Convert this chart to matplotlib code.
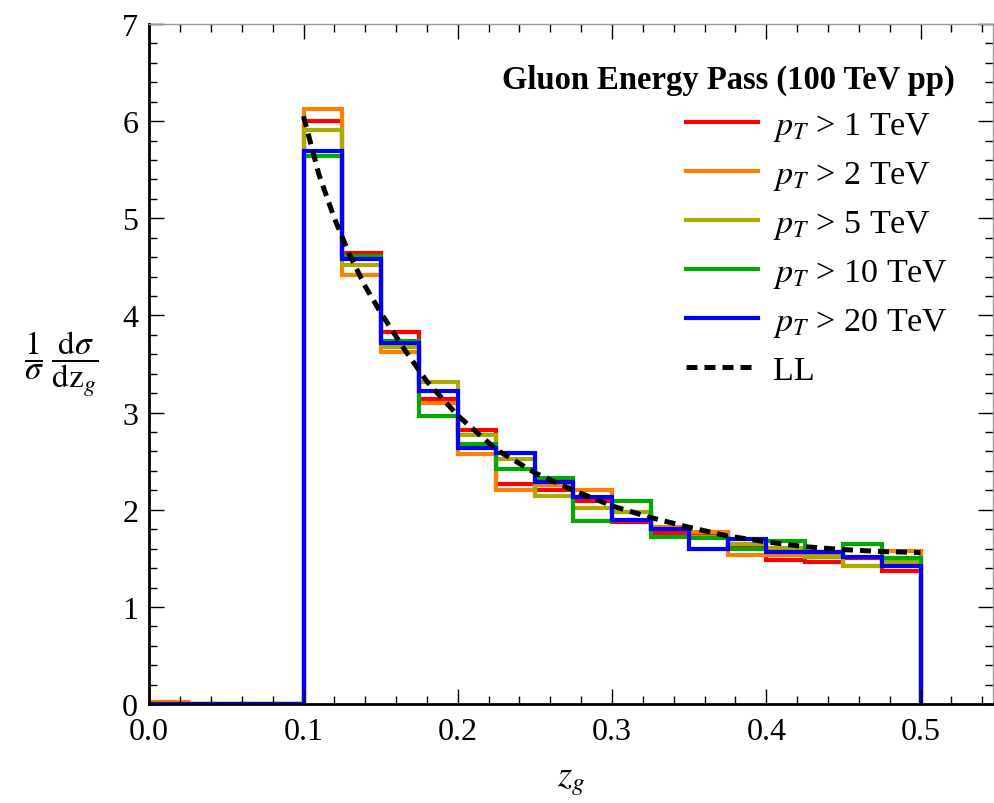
import numpy as np
import matplotlib
matplotlib.use("Agg")
import matplotlib.pyplot as plt
from matplotlib.ticker import MultipleLocator

plt.rcParams["font.family"] = ["Liberation Serif", "DejaVu Serif"]
plt.rcParams["mathtext.fontset"] = "stix"

# bin edges in z_g (width 0.025 from 0 to 0.5)
edges = np.round(np.arange(0.0, 0.5001, 0.025), 3)

# normalized z_g distributions per p_T cut, first four bins are below z_cut
zg_pt1 = [0.02, 0, 0, 0,
          6.00, 4.64, 3.83, 3.14, 2.82, 2.27, 2.20, 2.09,
          1.87, 1.76, 1.76, 1.63, 1.48, 1.46, 1.50, 1.37]
zg_pt2 = [0.02, 0, 0, 0,
          6.12, 4.42, 3.62, 3.10, 2.57, 2.20, 2.25, 2.20,
          1.98, 1.82, 1.77, 1.53, 1.53, 1.53, 1.42, 1.58]
zg_pt5 = [0, 0, 0, 0,
          5.91, 4.52, 3.67, 3.31, 2.77, 2.52, 2.14, 2.02,
          1.98, 1.80, 1.72, 1.65, 1.61, 1.51, 1.42, 1.46]
zg_pt10 = [0, 0, 0, 0,
           5.64, 4.61, 3.74, 2.96, 2.68, 2.42, 2.33, 1.88,
           2.09, 1.72, 1.71, 1.60, 1.68, 1.57, 1.65, 1.50]
zg_pt20 = [0, 0, 0, 0,
           5.69, 4.58, 3.72, 3.22, 2.64, 2.58, 2.29, 2.13,
           1.89, 1.80, 1.60, 1.70, 1.57, 1.57, 1.51, 1.42]

# leading-log curve
ll_z = [0.100, 0.110, 0.120, 0.130, 0.140, 0.150, 0.165, 0.180, 0.200,
        0.225, 0.250, 0.275, 0.300, 0.325, 0.350, 0.375, 0.400, 0.425,
        0.450, 0.475, 0.500]
ll_val = [6.05, 5.45, 5.00, 4.62, 4.30, 4.03, 3.66, 3.32, 2.97,
          2.62, 2.38, 2.20, 2.04, 1.92, 1.82, 1.73, 1.67, 1.62,
          1.59, 1.57, 1.56]

labels = [r"$p_T$ > 1 TeV", r"$p_T$ > 2 TeV", r"$p_T$ > 5 TeV",
          r"$p_T$ > 10 TeV", r"$p_T$ > 20 TeV"]
series = [zg_pt1, zg_pt2, zg_pt5, zg_pt10, zg_pt20]
colors = ["#ff0000", "#ff8000", "#aaaa00", "#00aa00", "#0000ff"]

fig = plt.figure(figsize=(9.95, 8.04), dpi=100)
ax = fig.add_axes([0.150, 0.123, 0.848, 0.846])

handles = []
for vals, col, lab in zip(series, colors, labels):
    ax.stairs(vals, edges, baseline=0, color=col, lw=3.0)
    h, = ax.plot([], [], color=col, lw=3.0, label=lab)
    handles.append(h)

h_ll, = ax.plot(ll_z, ll_val, color="black", lw=3.6, ls=(0, (2.2, 1.4)),
                label="LL")
handles.append(h_ll)

ax.set_xlim(0, 0.547)
ax.set_ylim(0, 7)
ax.xaxis.set_minor_locator(MultipleLocator(0.02))
ax.yaxis.set_major_locator(MultipleLocator(1))
ax.yaxis.set_minor_locator(MultipleLocator(0.2))
ax.set_xticks(np.arange(0, 0.51, 0.1))
ax.set_xticklabels(["0.0", "0.1", "0.2", "0.3", "0.4", "0.5"])

ax.tick_params(which="both", direction="in", top=True, right=True,
               labelsize=23)
ax.tick_params(axis="x", which="both", pad=9.5)
ax.tick_params(axis="y", which="both", pad=8)
ax.tick_params(which="major", length=11, width=1.0)
ax.tick_params(which="minor", length=6, width=1.0)

for side in ["left", "bottom"]:
    ax.spines[side].set_linewidth(2.0)
    ax.spines[side].set_color("black")
for side in ["top", "right"]:
    ax.spines[side].set_linewidth(1.0)
    ax.spines[side].set_color("#999999")

ax.set_xlabel(r"$z_g$", fontsize=26, labelpad=13)
fig.text(0.062, 0.546,
         r"$\dfrac{1}{\sigma}\;\dfrac{\mathrm{d}\sigma}{\mathrm{dz}_g}$",
         fontsize=24, ha="center", va="center")

fig.text(0.960, 0.9005, "Gluon Energy Pass (100 TeV pp)",
         fontsize=23.5, fontweight="bold", ha="right", va="center")

leg = ax.legend(handles=handles, loc="upper left",
                bbox_to_anchor=(0.6894, 0.862), bbox_transform=fig.transFigure,
                frameon=False, fontsize=24.5, handlelength=2.12,
                handletextpad=0.44, labelspacing=0.47, borderpad=0,
                borderaxespad=0)

fig.savefig("out.png", dpi=100)
